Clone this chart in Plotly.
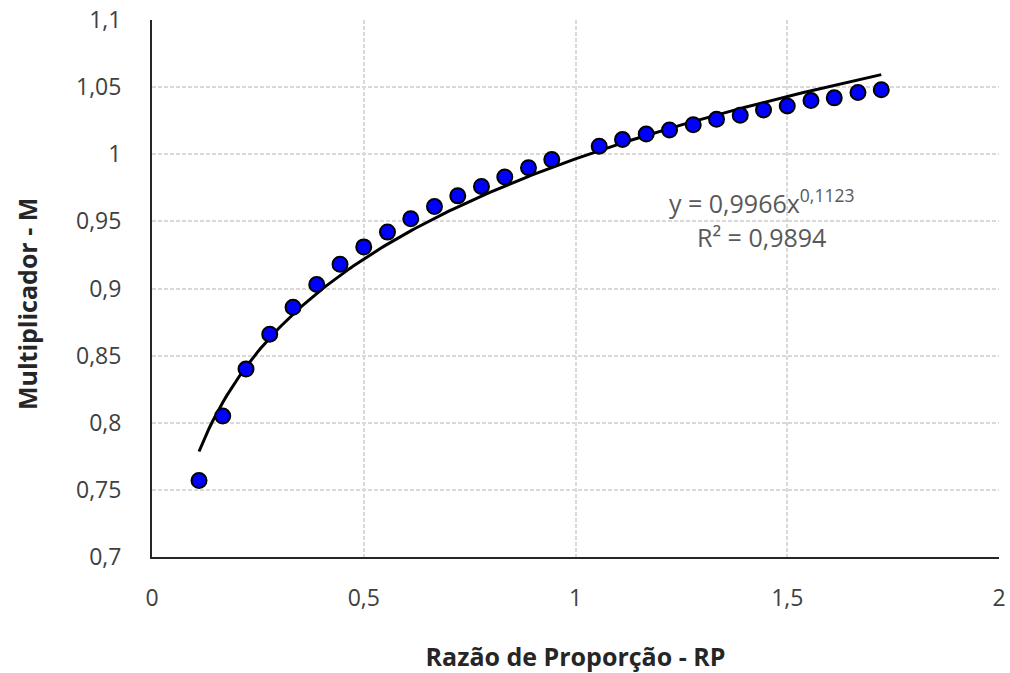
import plotly.graph_objects as go
import numpy as np

# Data
rp = [0.111, 0.167, 0.222, 0.278, 0.333, 0.389, 0.444, 0.500, 0.556, 0.611,
      0.667, 0.722, 0.778, 0.833, 0.889, 0.944, 1.056, 1.111, 1.167, 1.222,
      1.278, 1.333, 1.389, 1.444, 1.500, 1.556, 1.611, 1.667, 1.722]
mult = [0.757, 0.805, 0.840, 0.866, 0.886, 0.903, 0.918, 0.931, 0.942, 0.952,
        0.961, 0.969, 0.976, 0.983, 0.990, 0.996, 1.006, 1.011, 1.015, 1.018,
        1.022, 1.026, 1.029, 1.033, 1.036, 1.040, 1.042, 1.046, 1.048]

# Power trendline coefficients shown on the chart
coef_a = 0.9966
coef_b = 0.1123
r2 = 0.9894

x_ticks = [0, 0.5, 1, 1.5, 2]
x_tick_text = ["0", "0,5", "1", "1,5", "2"]
y_ticks = [0.7, 0.75, 0.8, 0.85, 0.9, 0.95, 1.0, 1.05, 1.1]
y_tick_text = ["0,7", "0,75", "0,8", "0,85", "0,9", "0,95", "1", "1,05", "1,1"]

trend_x = np.linspace(min(rp), max(rp), 200)
trend_y = coef_a * trend_x ** coef_b

fig = go.Figure()
fig.add_trace(go.Scatter(
    x=trend_x, y=trend_y, mode="lines",
    line=dict(color="black", width=3), hoverinfo="skip", showlegend=False))
fig.add_trace(go.Scatter(
    x=rp, y=mult, mode="markers",
    marker=dict(color="#0000FF", size=15, line=dict(color="black", width=2)),
    showlegend=False))

def fmt(v):
    return f"{v}".replace(".", ",")

ann_font = dict(family="Open Sans", size=25, color="#595959")
fig.add_annotation(x=1.44, y=0.9645, xref="x", yref="y",
                   text=f"y = {fmt(coef_a)}x<sup>{fmt(coef_b)}</sup>",
                   showarrow=False, font=ann_font)
fig.add_annotation(x=1.44, y=0.9385, xref="x", yref="y",
                   text=f"R² = {fmt(r2)}",
                   showarrow=False, font=ann_font)

grid = "#d9d9d9"
tick_font = dict(family="Open Sans", size=23, color="#404040")
title_font = dict(family="Open Sans", size=25, color="#262626")

# Y-axis title (placed to match the reference's offset)
fig.add_annotation(x=0, y=0.471, xref="paper", yref="paper",
                   xanchor="center", yanchor="middle", xshift=-125,
                   text="<b>Multiplicador - M</b>", textangle=-90,
                   showarrow=False, font=title_font)

fig.update_layout(
    width=1010, height=673,
    margin=dict(l=152, r=11, t=20, b=116, autoexpand=False),
    paper_bgcolor="white", plot_bgcolor="white",
    xaxis=dict(
        range=[0, 2], tickvals=x_ticks, ticktext=x_tick_text,
        showgrid=True, gridcolor=grid, gridwidth=1.5, griddash="4px,2px",
        showline=True, linecolor="#262626", linewidth=2,
        zeroline=False, ticks="", tickfont=tick_font, ticklabelstandoff=19,
        title=dict(text="<b>Razão de Proporção - RP</b>", font=title_font, standoff=38),
        automargin=False),
    yaxis=dict(
        range=[0.7, 1.1], tickvals=y_ticks, ticktext=y_tick_text,
        showgrid=True, gridcolor=grid, gridwidth=1.5, griddash="4px,2px",
        showline=True, linecolor="#262626", linewidth=2,
        zeroline=False, ticks="", tickfont=tick_font, ticklabelstandoff=24,
        automargin=False),
)

fig.write_html("out.html")
